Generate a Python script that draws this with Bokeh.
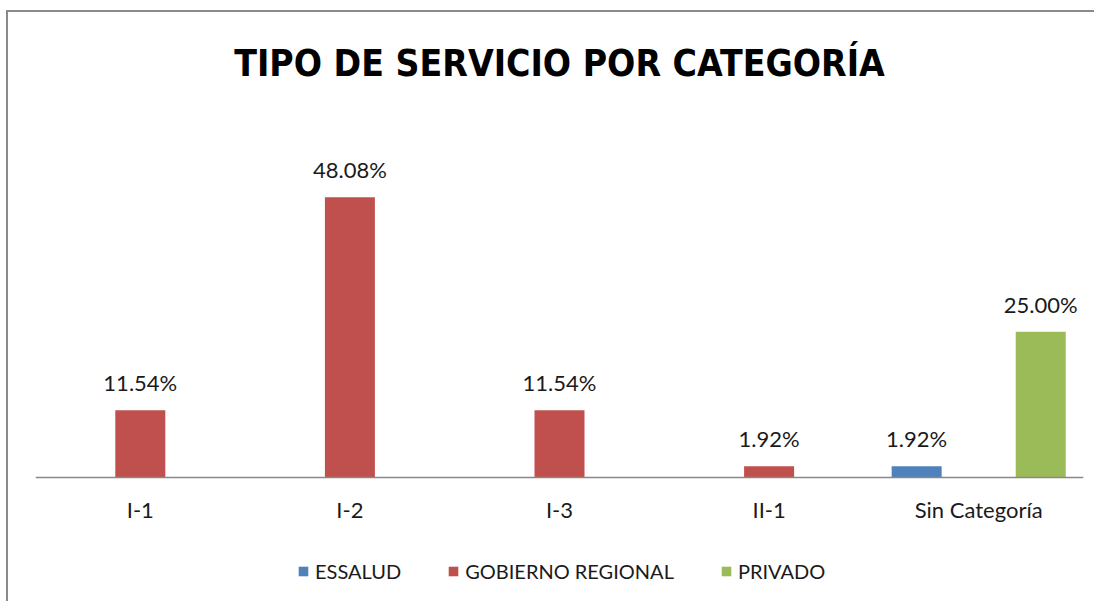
from bokeh.plotting import figure
from bokeh.models import ColumnDataSource, FactorRange, Range1d, LabelSet, Label, Legend, LegendItem, Span
from bokeh.core.properties import value
from bokeh.transform import dodge
from bokeh.embed import file_html
from bokeh.resources import INLINE

title_text = "TIPO DE SERVICIO POR CATEGORÍA"
categories = ["I-1", "I-2", "I-3", "II-1", "Sin Categoría"]
series = ["ESSALUD", "GOBIERNO REGIONAL", "PRIVADO"]
essalud = [0, 0, 0, 0, 1.92]
gobierno = [11.54, 48.08, 11.54, 1.92, 0]
privado = [0, 0, 0, 0, 25.00]
colors = ["#4F81BD", "#C0504D", "#9BBB59"]
offsets = [-0.296, 0.0, 0.296]

LABEL_FONT = "Lato"

W, H = 1088, 591
p = figure(
    width=W, height=H,
    x_range=FactorRange(*categories, range_padding=0),
    y_range=Range1d(-21.6, 79.76),
    output_backend="svg", toolbar_location=None,
    min_border_left=27, min_border_right=13, min_border_top=0, min_border_bottom=0,
    styles={"margin-top": "10px", "margin-left": "6px",
            "border-top": "2px solid #8a8a8a", "border-left": "2px solid #8a8a8a"},
)
p.outline_line_color = None
p.xgrid.visible = False
p.ygrid.visible = False
p.yaxis.visible = False
p.xaxis.visible = False

# chart title (centered over the plotting area)
p.add_layout(Label(x=(W - 27 - 13) / 2, y=H - 51, x_units="screen", y_units="screen",
                   text=title_text, text_align="center", text_baseline="middle",
                   text_font="Liberation Sans Narrow, DejaVu Sans Condensed, sans-serif",
                   text_font_size="37px", text_font_style="bold", text_color="#000000"))

# baseline (category axis line) at y = 0
p.add_layout(Span(location=0, dimension="width", line_color="#888888", line_width=1.5))

legend_items = []
for name, vals, col, off in zip(series, [essalud, gobierno, privado], colors, offsets):
    src = ColumnDataSource(dict(
        cat=categories, val=vals,
        lab=[("%.2f%%" % v) if v > 0 else "" for v in vals],
    ))
    r = p.vbar(x=dodge("cat", off, range=p.x_range), top="val", width=0.2386,
               source=src, fill_color=col, line_color=None)
    legend_items.append(LegendItem(label=name, renderers=[r]))
    labels = LabelSet(x=dodge("cat", off, range=p.x_range), y="val", text="lab",
                      source=src, text_align="center", text_baseline="alphabetic",
                      y_offset=19, text_font=value(LABEL_FONT), text_font_size=value("22px"),
                      text_color="#1a1a1a")
    p.add_layout(labels)

# category tick labels
cat_src = ColumnDataSource(dict(cat=categories, y=[0] * len(categories)))
p.add_layout(LabelSet(x="cat", y="y", text="cat", source=cat_src, text_align="center",
                      text_baseline="middle", y_offset=-32, text_font=value(LABEL_FONT),
                      text_font_size=value("22px"), text_color="#1a1a1a"))

legend = Legend(items=legend_items, orientation="horizontal", location=(262, 20),
                glyph_width=12, glyph_height=12, label_standoff=6, spacing=46,
                label_text_font=LABEL_FONT, label_text_font_size="20px",
                label_text_color="#1a1a1a", border_line_color=None,
                background_fill_alpha=0, margin=0, padding=2)
p.add_layout(legend, "center")

open("out.html", "w").write(file_html(p, INLINE))
